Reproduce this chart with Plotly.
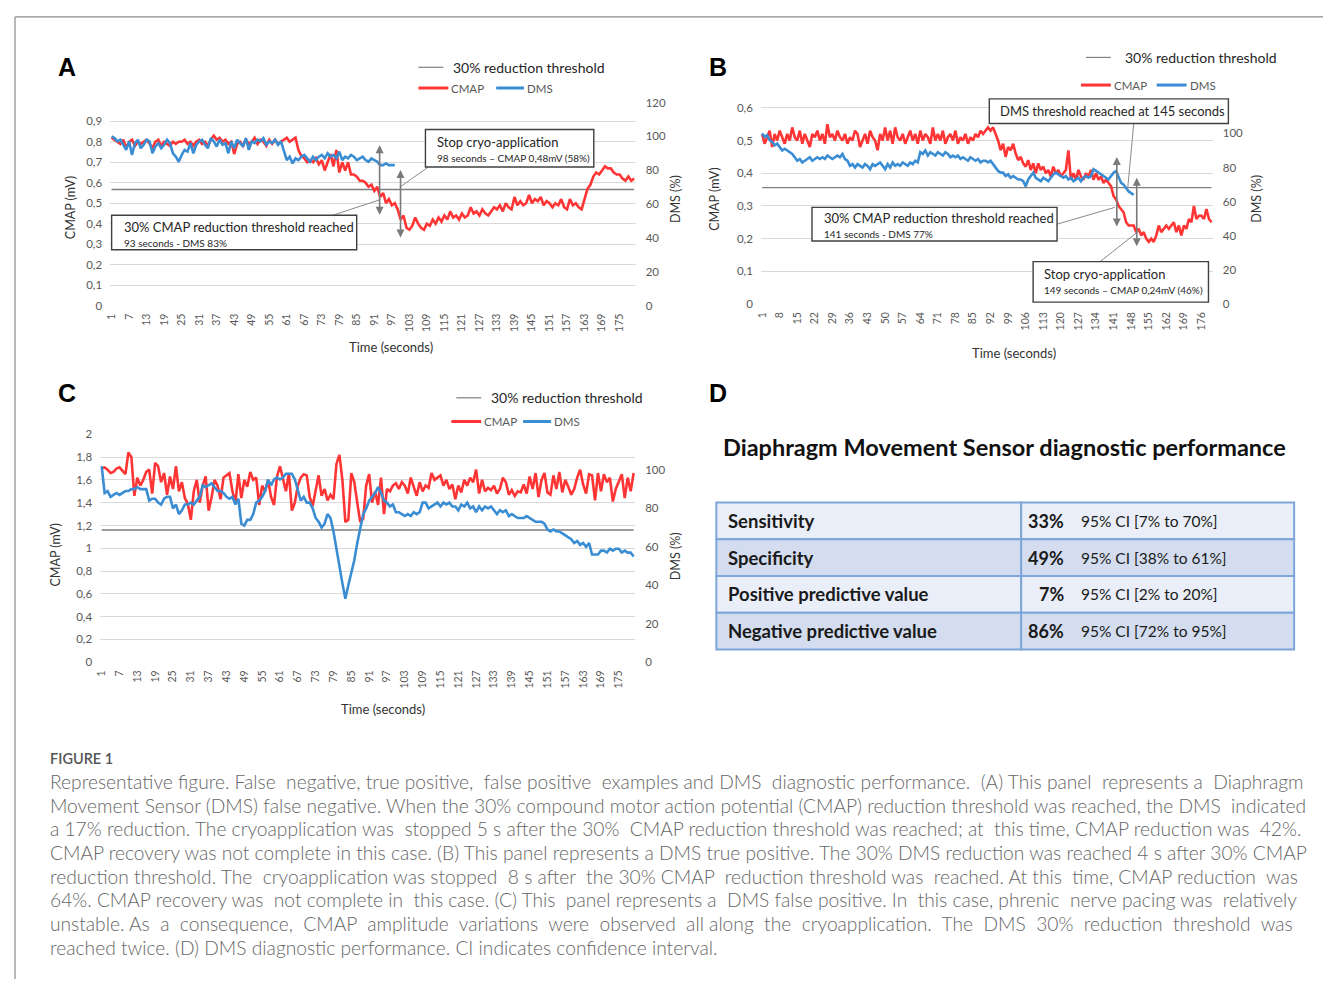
import plotly.graph_objects as go

# page has an 8px body margin; figure is sized so page == 1331x987
PAD = 8
W, H = 1331 - PAD, 987 - 2 * PAD


def fx(x):
    return (x - PAD) / W


def fy(y):
    return 1 - (y - PAD) / H


# ---------------- data ----------------
seconds = list(range(1, 181))

# Panel A (false negative)
cmap_a = [
    0.82, 0.81, 0.80, 0.79, 0.81, 0.77, 0.80, 0.81, 0.78, 0.80,
    0.79, 0.80, 0.81, 0.79, 0.77, 0.80, 0.81, 0.78, 0.80, 0.79,
    0.78, 0.80, 0.79, 0.80, 0.80, 0.81, 0.79, 0.80, 0.78, 0.80,
    0.81, 0.79, 0.80, 0.78, 0.81, 0.83, 0.81, 0.82, 0.80, 0.81,
    0.79, 0.80, 0.74, 0.79, 0.80, 0.78, 0.81, 0.79, 0.80, 0.82,
    0.79, 0.81, 0.80, 0.78, 0.81, 0.79, 0.81, 0.79, 0.80, 0.81,
    0.82, 0.80, 0.81, 0.82, 0.76, 0.73, 0.72, 0.70, 0.71, 0.70,
    0.72, 0.69, 0.71, 0.66, 0.70, 0.74, 0.68, 0.76, 0.65, 0.70,
    0.66, 0.70, 0.64, 0.64, 0.63, 0.61, 0.61, 0.60, 0.58, 0.59,
    0.56, 0.58, 0.53, 0.55, 0.50, 0.52, 0.49, 0.50, 0.47, 0.42,
    0.44, 0.38, 0.37, 0.39, 0.43, 0.40, 0.38, 0.37, 0.40, 0.39,
    0.42, 0.40, 0.43, 0.41, 0.44, 0.42, 0.46, 0.43, 0.44, 0.42,
    0.45, 0.43, 0.44, 0.48, 0.45, 0.46, 0.44, 0.47, 0.45, 0.44,
    0.46, 0.48, 0.47, 0.49, 0.46, 0.50, 0.48, 0.47, 0.53, 0.49,
    0.51, 0.49, 0.50, 0.54, 0.50, 0.52, 0.51, 0.53, 0.49, 0.51,
    0.50, 0.48, 0.50, 0.49, 0.52, 0.48, 0.47, 0.52, 0.49, 0.50,
    0.48, 0.47, 0.52, 0.57, 0.59, 0.63, 0.65, 0.64, 0.66, 0.68,
    0.67, 0.67, 0.65, 0.64, 0.64, 0.62, 0.61, 0.63, 0.61, 0.62,
]
dms_a = [
    100, 99, 97, 98, 95, 92, 97, 89, 96, 98,
    93, 95, 98, 97, 90, 94, 96, 93, 95, 98,
    96, 90, 88, 85, 89, 92, 91, 96, 90, 95,
    97, 98, 95, 93, 99, 97, 94, 98, 95, 96,
    90, 97, 93, 98, 96, 94, 99, 92, 97, 96,
    98, 97, 99, 95, 97, 96, 98, 95, 97, 91,
    86, 88, 84, 87, 86, 88, 89, 87, 85, 88,
    86, 88, 89, 87, 90, 88, 89, 87, 91, 86,
    88, 87, 89, 88, 86, 87, 88, 86, 85, 87,
    86, 85, 83, 83, 84, 83, 83, 83,
]
thr_a = 0.567

# Panel B (true positive)
cmap_b = [
    0.52, 0.49, 0.51, 0.53, 0.48, 0.52, 0.50, 0.53, 0.51, 0.49,
    0.52, 0.50, 0.54, 0.51, 0.50, 0.53, 0.49, 0.52, 0.50, 0.48,
    0.52, 0.51, 0.53, 0.50, 0.52, 0.49, 0.55, 0.51, 0.52, 0.50,
    0.53, 0.51, 0.50, 0.52, 0.49, 0.51, 0.50, 0.53, 0.52, 0.48,
    0.50, 0.52, 0.49, 0.53, 0.51, 0.50, 0.47, 0.52, 0.50, 0.54,
    0.50, 0.53, 0.49, 0.54, 0.51, 0.50, 0.52, 0.49, 0.51, 0.53,
    0.50, 0.52, 0.49, 0.53, 0.50, 0.52, 0.51, 0.49, 0.54, 0.50,
    0.52, 0.50, 0.53, 0.49, 0.51, 0.52, 0.50, 0.53, 0.49, 0.51,
    0.50, 0.52, 0.49, 0.51, 0.50, 0.52, 0.51, 0.53, 0.52, 0.53,
    0.54, 0.53, 0.54, 0.52, 0.50, 0.47, 0.49, 0.45, 0.48, 0.47,
    0.49, 0.46, 0.44, 0.45, 0.43, 0.42, 0.44, 0.41, 0.43, 0.40,
    0.43, 0.41, 0.42, 0.40, 0.41, 0.39, 0.42, 0.40, 0.41, 0.39,
    0.40, 0.41, 0.47, 0.38, 0.40, 0.38, 0.41, 0.39, 0.38, 0.40,
    0.39, 0.41, 0.38, 0.40, 0.38, 0.39, 0.37, 0.38, 0.37, 0.36,
    0.33, 0.32, 0.30, 0.29, 0.28, 0.25, 0.24, 0.24, 0.24, 0.22,
    0.23, 0.21, 0.22, 0.20, 0.19, 0.20, 0.19, 0.21, 0.24, 0.22,
    0.23, 0.24, 0.23, 0.24, 0.25, 0.22, 0.24, 0.21, 0.24, 0.23,
    0.26, 0.25, 0.30, 0.26, 0.27, 0.27, 0.26, 0.29, 0.26, 0.25,
]
dms_b = [
    100, 98, 99, 96, 95, 93, 94, 92, 90, 91,
    90, 89, 88, 86, 84, 85, 83, 84, 85, 86,
    84, 85, 86, 85, 86, 85, 87, 86, 85, 86,
    87, 86, 88, 85, 84, 81, 82, 80, 82, 81,
    80, 82, 81, 79, 82, 81, 82, 83, 81, 79,
    82, 80, 83, 81, 82, 81, 83, 82, 81, 83,
    82, 84, 83, 89, 88, 90, 87, 89, 88, 87,
    89, 88, 87, 89, 88, 86, 87, 86, 87, 85,
    86, 85, 84, 86, 85, 84, 85, 83, 84, 84,
    83, 84, 82, 80, 78, 77, 77, 75, 76, 74,
    75, 74, 73, 73, 72, 69, 73, 75, 77, 74,
    73, 72, 74, 73, 72, 74, 76, 77, 76, 75,
    74, 75, 73, 74, 72, 73, 74, 72, 74, 75,
    74, 75, 79, 78, 77, 76, 75, 74, 73, 75,
    77, 78, 74, 71, 70, 68, 66, 65, 64,
]
thr_b = 0.356

# Panel C (false positive)
cmap_c = [
    1.70, 1.71, 1.69, 1.66, 1.67, 1.70, 1.71, 1.68, 1.65, 1.84,
    1.80, 1.46, 1.62, 1.55, 1.60, 1.67, 1.69, 1.48, 1.75, 1.72,
    1.58, 1.66, 1.47, 1.63, 1.52, 1.72, 1.50, 1.58, 1.44, 1.39,
    1.25, 1.50, 1.60, 1.40, 1.55, 1.63, 1.33, 1.45, 1.60, 1.55,
    1.43, 1.62, 1.64, 1.66, 1.50, 1.40, 1.65, 1.44, 1.60, 1.54,
    1.67, 1.60, 1.62, 1.38, 1.55, 1.50, 1.60, 1.45, 1.38, 1.63,
    1.72, 1.60, 1.50, 1.66, 1.33, 1.40, 1.55, 1.62, 1.65, 1.64,
    1.45, 1.37, 1.50, 1.64, 1.46, 1.52, 1.42, 1.47, 1.43, 1.74,
    1.82, 1.60, 1.23, 1.25, 1.66, 1.58, 1.40, 1.23, 1.26, 1.55,
    1.65, 1.40, 1.50, 1.38, 1.62, 1.30, 1.52, 1.50, 1.55, 1.57,
    1.52, 1.58, 1.55, 1.48, 1.62, 1.54, 1.46, 1.58, 1.50, 1.55,
    1.53, 1.66, 1.60, 1.62, 1.64, 1.55, 1.60, 1.52, 1.56, 1.43,
    1.55, 1.49, 1.60, 1.55, 1.62, 1.58, 1.69, 1.48, 1.60, 1.50,
    1.53, 1.51, 1.55, 1.48, 1.52, 1.62, 1.58, 1.47, 1.51, 1.46,
    1.50, 1.49, 1.56, 1.48, 1.63, 1.52, 1.66, 1.45, 1.60, 1.66,
    1.49, 1.47, 1.64, 1.52, 1.67, 1.49, 1.60, 1.54, 1.47, 1.52,
    1.62, 1.69, 1.56, 1.48, 1.65, 1.64, 1.42, 1.66, 1.50, 1.65,
    1.58, 1.62, 1.41, 1.52, 1.58, 1.65, 1.44, 1.62, 1.50, 1.66,
]
dms_c = [
    102, 88, 89, 86, 87, 88, 87, 88, 89, 89,
    90, 90, 91, 90, 90, 90, 84, 85, 85, 83,
    82, 85, 86, 86, 80, 82, 77, 79, 82, 82,
    83, 82, 84, 86, 92, 91, 92, 93, 91, 89,
    89, 88, 86, 85, 86, 82, 85, 72, 71, 74,
    74, 77, 83, 84, 86, 89, 95, 92, 95, 96,
    95, 96, 98, 98, 98, 95, 89, 84, 86, 83,
    83, 80, 75, 73, 70, 72, 77, 75, 68, 60,
    50, 41, 33, 40, 47, 53, 62, 70, 77, 80,
    84, 86, 88, 91, 88, 84, 83, 81, 82, 78,
    78, 77, 76, 77, 76, 78, 77, 78, 83, 83,
    80, 81, 82, 83, 81, 83, 82, 83, 81, 81,
    79, 82, 81, 83, 80, 81, 78, 81, 79, 81,
    80, 81, 79, 77, 79, 78, 79, 76, 77, 76,
    75, 75, 75, 76, 75, 74, 73, 73, 73, 72,
    69, 68, 69, 68, 68, 67, 66, 65, 64, 62,
    63, 61, 62, 60, 62, 56, 56, 56, 58, 58,
    57, 59, 58, 59, 59, 57, 58, 57, 57, 55,
]
thr_c = 1.16

# tick values
ticks_a_left = [0, 0.1, 0.2, 0.3, 0.4, 0.5, 0.6, 0.7, 0.8, 0.9]
ticks_b_left = [0, 0.1, 0.2, 0.3, 0.4, 0.5, 0.6]
ticks_c_left = [0, 0.2, 0.4, 0.6, 0.8, 1.0, 1.2, 1.4, 1.6, 1.8, 2.0]
ticks_a_right = [0, 20, 40, 60, 80, 100, 120]
ticks_b_right = [0, 20, 40, 60, 80, 100]
ticks_c_right = [0, 20, 40, 60, 80, 100]

# table D
table_rows = ["Sensitivity", "Specificity", "Positive predictive value", "Negative predictive value"]
table_pct = ["33%", "49%", "7%", "86%"]
table_ci = ["95% CI [7% to 70%]", "95% CI [38% to 61%]", "95% CI [2% to 20%]", "95% CI [72% to 95%]"]

caption_title = "FIGURE 1"
caption_lines = [
    "Representative figure. False negative, true positive, false positive examples and DMS diagnostic performance. (A) This panel represents a Diaphragm",
    "Movement Sensor (DMS) false negative. When the 30% compound motor action potential (CMAP) reduction threshold was reached, the DMS indicated",
    "a 17% reduction. The cryoapplication was stopped 5 s after the 30% CMAP reduction threshold was reached; at this time, CMAP reduction was 42%.",
    "CMAP recovery was not complete in this case. (B) This panel represents a DMS true positive. The 30% DMS reduction was reached 4 s after 30% CMAP",
    "reduction threshold. The cryoapplication was stopped 8 s after the 30% CMAP reduction threshold was reached. At this time, CMAP reduction was",
    "64%. CMAP recovery was not complete in this case. (C) This panel represents a DMS false positive. In this case, phrenic nerve pacing was relatively",
    "unstable. As a consequence, CMAP amplitude variations were observed all along the cryoapplication. The DMS 30% reduction threshold was",
    "reached twice. (D) DMS diagnostic performance. CI indicates confidence interval.",
]
# extra word-gap padding (in spaces) used to approximate the justified paragraph
caption_extra_spaces = [7, 1, 4, 0, 7, 7, 16, 0]

# ---------------- styles ----------------
RED = "#ff3535"
BLUE = "#3a8dd3"
THR = "#7f7f7f"
GRID = "#d9d9d9"
TICKC = "#595959"
FONT = "Lato"


def fmt(v):
    s = ("%g" % v)
    return s.replace(".", ",")


def justify(s, extra):
    words = s.split(" ")
    gaps = len(words) - 1
    if extra <= 0 or gaps <= 0:
        return s
    out = words[0]
    for i in range(gaps):
        n = (i + 1) * extra // gaps - i * extra // gaps
        out += " " + "\u00a0" * n + words[i + 1]
    return out


fig = go.Figure()


def add_panel(xa, yl, yr, cmap, dms, thr):
    fig.add_trace(go.Scatter(x=seconds, y=[thr] * len(seconds), mode="lines",
                             line=dict(color=THR, width=1.4), xaxis=xa, yaxis=yl,
                             name="30% reduction threshold", hoverinfo="skip"))
    fig.add_trace(go.Scatter(x=seconds[:len(cmap)], y=cmap, mode="lines",
                             line=dict(color=RED, width=2.6), xaxis=xa, yaxis=yl, name="CMAP"))
    fig.add_trace(go.Scatter(x=seconds[:len(dms)], y=dms, mode="lines",
                             line=dict(color=BLUE, width=2.6), xaxis=xa, yaxis=yr, name="DMS"))


add_panel("x", "y", "y2", cmap_a, dms_a, thr_a)
add_panel("x2", "y3", "y4", cmap_b, dms_b, thr_b)
add_panel("x3", "y5", "y6", cmap_c, dms_c, thr_c)


def xax(domain, anchor, step):
    tv = seconds[::step]
    return dict(domain=domain, anchor=anchor, range=[0.5, 180.5], tickvals=tv,
                ticktext=[str(t) for t in tv], tickangle=-90, showgrid=False,
                zeroline=False, showline=False, ticks="", ticklabelstandoff=5,
                tickfont=dict(family=FONT, size=10.5, color=TICKC), fixedrange=True)


def yleft(domain, anchor, rng, tv):
    return dict(domain=domain, anchor=anchor, range=rng, tickvals=tv,
                ticktext=[fmt(t) for t in tv], showgrid=True, gridcolor=GRID,
                gridwidth=1, zeroline=False, showline=False, ticks="",
                ticklabelstandoff=7, tickfont=dict(family=FONT, size=11.5, color=TICKC),
                fixedrange=True)


def yright(over, anchor, rng, tv):
    return dict(overlaying=over, side="right", anchor=anchor, range=rng, tickvals=tv,
                ticktext=[str(t) for t in tv], showgrid=False, zeroline=False,
                showline=False, ticks="", ticklabelstandoff=9,
                tickfont=dict(family=FONT, size=11.5, color=TICKC), fixedrange=True)


fig.update_layout(
    width=W, height=H, margin=dict(l=0, r=0, t=0, b=0),
    paper_bgcolor="white", plot_bgcolor="white", showlegend=False,
    font=dict(family=FONT, color="#333333"),
    xaxis=xax([fx(105.5), fx(633)], "y", 6),
    yaxis=yleft([fy(302.5), fy(95)], "x", [0, 1.0], ticks_a_left),
    yaxis2=yright("y", "x", [0, 121], ticks_a_right),
    xaxis2=xax([fx(758.7), fx(1212.3)], "y3", 7),
    yaxis3=yleft([fy(301), fy(93.4)], "x2", [0, 0.626], ticks_b_left),
    yaxis4=yright("y3", "x2", [0, 120], ticks_b_right),
    xaxis3=xax([fx(95.5), fx(632.5)], "y5", 6),
    yaxis5=yleft([fy(664), fy(433)], "x3", [0, 2.0], ticks_c_left),
    yaxis6=yright("y5", "x3", [0, 118.5], ticks_c_right),
)

shapes = []
annos = []


def line(x0, y0, x1, y1, color, width):
    shapes.append(dict(type="line", xref="paper", yref="paper", x0=fx(x0), y0=fy(y0),
                       x1=fx(x1), y1=fy(y1), line=dict(color=color, width=width)))


def rect(x0, y0, x1, y1, color, width, fill="white"):
    shapes.append(dict(type="rect", xref="paper", yref="paper", x0=fx(x0), y0=fy(y0),
                       x1=fx(x1), y1=fy(y1), line=dict(color=color, width=width),
                       fillcolor=fill, layer="above"))


def text(x, y, t, size, color="#333333", xanchor="left", angle=0, bold=False, fam=FONT, weight=None):
    f = dict(family=fam, size=size, color=color)
    if weight is not None:
        f["weight"] = weight
    annos.append(dict(xref="paper", yref="paper", x=fx(x), y=fy(y), text=("<b>%s</b>" % t) if bold else t,
                      showarrow=False, xanchor=xanchor, yanchor="middle", textangle=angle,
                      font=f))


def darrow(x, y0, y1):
    annos.append(dict(xref="paper", yref="paper", x=fx(x), y=fy(y0), ax=0, ay=y1 - y0,
                      text="", showarrow=True, arrowside="end+start", arrowhead=2,
                      startarrowhead=2, arrowsize=1, startarrowsize=1, arrowwidth=1.6,
                      arrowcolor="#7a7a7a"))


# frame
line(10, 10, 1331, 10, "#8a8a8a", 1.2)
line(10, 10, 10, 987, "#8a8a8a", 1.2)

# panel letters
for lx, ly, lt in [(62, 61, "A"), (716, 61, "B"), (62, 391, "C"), (716, 391, "D")]:
    text(lx, ly, lt, 25, "#000000", "center", bold=True, fam="Liberation Sans")


# legends
def legend(tx0, ty, cy, cmap_x, dms_x):
    line(tx0, ty, tx0 + 25, ty, THR, 1.2)
    text(tx0 + 33, ty, "30% reduction threshold", 14, "#262626")
    line(cmap_x, cy, cmap_x + 30, cy, RED, 3)
    text(cmap_x + 31, cy, "CMAP", 11.5, TICKC)
    line(dms_x, cy, dms_x + 28, cy, BLUE, 3)
    text(dms_x + 29, cy, "DMS", 11.5, TICKC)


legend(415, 61, 82, 415, 493)
line(1085, 51, 1110, 51, THR, 1.2)
text(1122, 51, "30% reduction threshold", 14, "#262626")
line(1080, 79, 1110, 79, RED, 3)
text(1111, 79, "CMAP", 11.5, TICKC)
line(1156, 79, 1186, 79, BLUE, 3)
text(1187, 79, "DMS", 11.5, TICKC)
legend(453, 396, 420, 448, 520)

# axis titles
for (x, y, t, ang) in [
    (66, 203, "CMAP (mV)", -90), (673, 194, "DMS (%)", -90),
    (712, 195, "CMAP (mV)", -90), (1256, 194, "DMS (%)", -90),
    (51, 555, "CMAP (mV)", -90), (673, 556, "DMS (%)", -90),
]:
    text(x, y, t, 12.5, "#333333", "center", angle=ang)
text(387, 345, "Time (seconds)", 13, "#333333", "center")
text(1013, 351, "Time (seconds)", 13, "#333333", "center")
text(379, 711, "Time (seconds)", 13, "#333333", "center")

BOX = "#404040"
# Panel A callouts
line(329, 211, 377, 195, "#8a8a8a", 1)
line(425, 162, 397, 182, "#8a8a8a", 1)
rect(107, 211, 353, 246, BOX, 1.4)
text(117, 223, "30% CMAP reduction threshold reached", 13, "#262626")
text(117, 239, "93 seconds - DMS 83%", 10, "#262626")
rect(422, 124, 591, 162, BOX, 1.4)
text(432, 137, "Stop cryo-application", 13, "#262626")
text(432, 153, "98 seconds \u2013 CMAP 0,48mV (58%)", 10, "#262626")
darrow(376, 140, 211)
darrow(397, 165, 234)

# Panel B callouts
line(1133, 118, 1127, 183, "#8a8a8a", 1)
line(1056, 220, 1114, 203, "#8a8a8a", 1)
line(1098, 259, 1138, 227, "#8a8a8a", 1)
rect(988, 93, 1228, 118, BOX, 1.4)
text(997, 105.5, "DMS threshold reached at 145 seconds", 13, "#262626")
rect(810, 203, 1056, 237, BOX, 1.4)
text(820, 214, "30% CMAP reduction threshold reached", 13, "#262626")
text(820, 230, "141 seconds - DMS 77%", 10, "#262626")
rect(1032, 258, 1208, 299, BOX, 1.4)
text(1041, 271, "Stop cryo-application", 13, "#262626")
text(1041, 287, "149 seconds \u2013 CMAP 0,24mV (46%)", 10, "#262626")
darrow(1116, 152, 223)
darrow(1136, 173, 243)

# Panel D
text(1003, 446, "Diaphragm Movement Sensor diagnostic performance", 23.5, "#111111", "center", bold=True)
row_top = 502
row_h = 37.25
fills = ["#e9eef8", "#d3ddef"]
for i, name in enumerate(table_rows):
    y0 = row_top + i * row_h
    y1 = y0 + row_h
    rect(714, y0, 1020, y1, "#7ea6d8", 2, fills[i % 2])
    rect(1020, y0, 1294, y1, "#7ea6d8", 2, fills[i % 2])
    yc = (y0 + y1) / 2
    text(724, yc, name, 18.5, "#1a1a1a", bold=True)
    text(1065, yc, table_pct[i], 18, "#1a1a1a", "right", bold=True)
    text(1078, yc, table_ci[i], 15.5, "#1a1a1a")

# caption
text(43, 762, caption_title, 14.5, "#555555", weight=600)
for k, ln in enumerate(caption_lines):
    text(43, 785 + 24 * k, justify(ln, caption_extra_spaces[k]), 19.2, "#666666", weight=300)

fig.update_layout(shapes=shapes, annotations=annos)

fig.write_html("out.html", config={"displayModeBar": False})
